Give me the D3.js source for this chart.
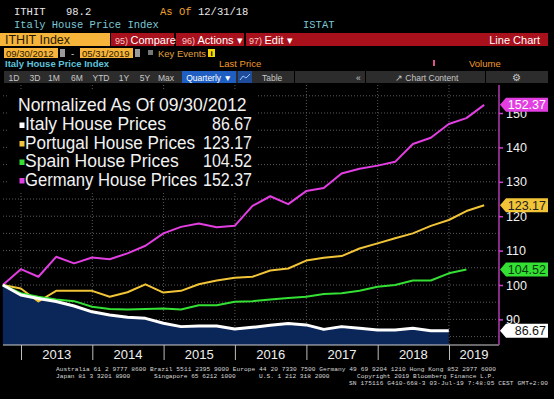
<!DOCTYPE html>
<html>
<head>
<meta charset="utf-8">
<script src="https://d3js.org/d3.v7.min.js"></script>
<style>
body { margin: 0; background: #000; }
svg { display: block; font-family: "Liberation Sans", Arial, sans-serif; }
.mono { font-family: "Liberation Mono", "DejaVu Sans Mono", monospace; }
</style>
</head>
<body>
<script>
var width = 554,
    height = 399;

// quarter end dates (normalized at 09/30/2012)
var quarters = ["2012-09-30","2012-12-31","2013-03-31","2013-06-30","2013-09-30","2013-12-31",
  "2014-03-31","2014-06-30","2014-09-30","2014-12-31","2015-03-31","2015-06-30","2015-09-30","2015-12-31",
  "2016-03-31","2016-06-30","2016-09-30","2016-12-31","2017-03-31","2017-06-30","2017-09-30","2017-12-31",
  "2018-03-31","2018-06-30","2018-09-30","2018-12-31","2019-03-31","2019-06-30"];

var italy = [100, 97.1, 96.1, 95.2, 93.9, 92.2, 91.3, 90.6, 90.3, 88.9, 87.9, 88.1, 88.1, 87.2,
  87.7, 88.3, 88.8, 88.4, 87.1, 87.9, 87.4, 86.9, 86.9, 87.4, 86.7, 86.67];
var portugal = [100, 99.0, 95.2, 98.3, 98.3, 98.3, 96.6, 97.9, 100.2, 97.8, 98.3, 100.2, 101.3, 102.1,
  102.4, 104.2, 104.8, 107.1, 107.9, 108.4, 110.6, 112.1, 113.6, 115.0, 117.2, 118.9, 121.5, 123.17];
var spain = [100, 97.6, 96.6, 95.8, 95.3, 93.7, 93.0, 92.9, 93.0, 93.2, 92.9, 94.1, 94.1, 95.1,
  95.3, 95.8, 96.2, 96.6, 97.4, 97.6, 98.3, 99.5, 100.0, 101.3, 101.3, 103.4, 104.52];
var germany = [100, 104.6, 102.4, 108.2, 106.3, 108.0, 107.5, 109.2, 111.4, 115.0, 116.9, 117.9, 116.8, 117.2,
  123.0, 125.8, 123.5, 127.3, 128.2, 132.4, 133.8, 134.7, 135.8, 141.0, 142.8, 146.8, 148.5, 152.37];

var seriesNames = ["Italy House Prices", "Portugal House Prices", "Spain House Prices", "Germany House Prices"];
var lastValues = [86.67, 123.17, 104.52, 152.37];
var seriesColors = ["#ffffff", "#f2c437", "#33e033", "#e23ee2"];
var tagText = ["#111111", "#222222", "#0a3a0a", "#ffffff"];

var yTicks = [90, 100, 110, 120, 130, 140, 150];
var gridValues = [85, 90, 95, 100, 105, 110, 115, 120, 125, 130, 135, 140, 145, 150, 155];
var years = [2013, 2014, 2015, 2016, 2017, 2018, 2019];

var parse = d3.timeParse("%Y-%m-%d");
var dates = quarters.map(parse);

var plotLeft = 3, plotRight = 499, plotTop = 85, plotBottom = 345;

var x = d3.scaleTime()
    .domain([new Date(2013, 0, 1), new Date(2019, 0, 1)])
    .range([21, 449]);
var y = d3.scaleLinear()
    .domain([100, 150])
    .range([285, 113]);

var svg = d3.select("body").append("svg")
    .attr("width", width)
    .attr("height", height)
    .style("background", "#000");

// *****
// HEADER
// *****
var head = svg.append("g");

head.append("text").attr("class", "mono").attr("x", 14).attr("y", 15).attr("font-size", 10.5).attr("fill", "#e8e8e8").text("ITHIT");
head.append("text").attr("class", "mono").attr("x", 66).attr("y", 15).attr("font-size", 10.5).attr("fill", "#e8e8e8").text("98.2");
head.append("text").attr("class", "mono").attr("x", 160).attr("y", 15).attr("font-size", 10.5).attr("fill", "#f0a030").text("As Of");
head.append("text").attr("class", "mono").attr("x", 198).attr("y", 15).attr("font-size", 10.5).attr("fill", "#e8e8e8").text("12/31/18");
head.append("text").attr("class", "mono").attr("x", 14).attr("y", 28).attr("font-size", 10.5).attr("fill", "#7cc9d6").text("Italy House Price Index");
head.append("text").attr("class", "mono").attr("x", 303).attr("y", 28).attr("font-size", 10.5).attr("fill", "#7cc9d6").text("ISTAT");

// command bar
head.append("rect").attr("x", 0).attr("y", 33).attr("width", 110).attr("height", 13).attr("fill", "#f7b43a");
head.append("text").attr("x", 5).attr("y", 44).attr("font-size", 12.5).attr("fill", "#2a1a00").text("ITHIT Index");
var redParts = [[111, 63], [176, 68], [246, 302]];
head.selectAll("rect.red").data(redParts).enter().append("rect")
    .attr("class", "red")
    .attr("x", function(d) { return d[0]; })
    .attr("y", 33).attr("width", function(d) { return d[1]; }).attr("height", 13)
    .attr("fill", "#a8101c");
var cmds = [[115, "95)", "Compare"], [182, "96)", "Actions \u25BE"], [249, "97)", "Edit \u25BE"]];
cmds.forEach(function(c) {
  var t = head.append("text").attr("x", c[0]).attr("y", 43.5).attr("font-size", 11).attr("fill", "#fff");
  t.append("tspan").attr("fill", "#f6c9c9").attr("font-size", 9).text(c[1] + " ");
  t.append("tspan").text(c[2]);
});
head.append("text").attr("x", 540).attr("y", 43.5).attr("text-anchor", "end").attr("font-size", 11).attr("fill", "#fff").text("Line Chart");

// date range row
head.append("rect").attr("x", 4).attr("y", 48).attr("width", 54).attr("height", 10).attr("fill", "#f7b43a");
head.append("text").attr("x", 6).attr("y", 56.5).attr("font-size", 9.5).attr("fill", "#2a1a00").text("09/30/2012");
head.append("rect").attr("x", 60).attr("y", 49).attr("width", 5).attr("height", 8).attr("fill", "#9a9a9a");
head.append("text").attr("x", 71).attr("y", 56.5).attr("font-size", 9.5).attr("fill", "#ddd").text("-");
head.append("rect").attr("x", 80).attr("y", 48).attr("width", 53).attr("height", 10).attr("fill", "#f7b43a");
head.append("text").attr("x", 82).attr("y", 56.5).attr("font-size", 9.5).attr("fill", "#2a1a00").text("05/31/2019");
head.append("rect").attr("x", 135).attr("y", 49).attr("width", 5).attr("height", 8).attr("fill", "#9a9a9a");
head.append("rect").attr("x", 148).attr("y", 50).attr("width", 5).attr("height", 5).attr("fill", "#777");
head.append("text").attr("x", 158).attr("y", 56.5).attr("font-size", 9.5).attr("fill", "#e0a040").text("Key Events");
head.append("rect").attr("x", 208).attr("y", 49).attr("width", 7).attr("height", 8).attr("fill", "#f5d800");
head.append("text").attr("x", 211.5).attr("y", 56).attr("text-anchor", "middle").attr("font-size", 8).attr("font-weight", "bold").attr("fill", "#000").text("i");

// series title row
head.append("text").attr("x", 5).attr("y", 67).attr("font-size", 9.5).attr("font-weight", "bold").attr("fill", "#5fc3dc").text("Italy House Price Index");
head.append("text").attr("x", 219).attr("y", 67).attr("font-size", 9.5).attr("fill", "#f09a2a").text("Last Price");
head.append("rect").attr("x", 433).attr("y", 60).attr("width", 2).attr("height", 6).attr("fill", "#e0508a");
head.append("text").attr("x", 469).attr("y", 67).attr("font-size", 9.5).attr("fill", "#f09a2a").text("Volume");

// button bar
head.append("rect").attr("x", 4).attr("y", 71).attr("width", 544).attr("height", 12).attr("fill", "#2c2c2c");
var buttons = [[14, "1D"], [35, "3D"], [54, "1M"], [77, "6M"], [101, "YTD"], [124, "1Y"], [145, "5Y"], [166, "Max"]];
head.selectAll("text.btn").data(buttons).enter().append("text")
    .attr("class", "btn")
    .attr("x", function(d) { return d[0]; })
    .attr("y", 80.5).attr("text-anchor", "middle").attr("font-size", 8.5).attr("fill", "#c8c8c8")
    .text(function(d) { return d[1]; });
head.append("rect").attr("x", 182).attr("y", 71).attr("width", 54).attr("height", 12).attr("fill", "#1f5fc4");
head.append("text").attr("x", 209).attr("y", 80.5).attr("text-anchor", "middle").attr("font-size", 8.5).attr("fill", "#fff").text("Quarterly \u25BC");
head.append("rect").attr("x", 238).attr("y", 71).attr("width", 14).attr("height", 12).attr("fill", "#1f4c9a");
head.append("path").attr("d", "M240,80 L243,76 L246,78 L250,74").attr("stroke", "#9cc4ff").attr("fill", "none");
head.append("text").attr("x", 262).attr("y", 80.5).attr("font-size", 8.5).attr("fill", "#c8c8c8").text("Table");
[294, 365, 485].forEach(function(sx) {
  head.append("rect").attr("x", sx).attr("y", 71).attr("width", 1).attr("height", 12).attr("fill", "#000");
});
head.append("text").attr("x", 356).attr("y", 80.5).attr("font-size", 8.5).attr("fill", "#c8c8c8").text("\u00AB");
head.append("text").attr("x", 395).attr("y", 80.5).attr("font-size", 8.5).attr("fill", "#c8c8c8").text("\u2197 Chart Content");
head.append("text").attr("x", 516).attr("y", 81).attr("text-anchor", "middle").attr("font-size", 10).attr("fill", "#c8c8c8").text("\u2699");

// *****
// CHART
// *****
var chart = svg.append("g");

// grid
chart.append("g").selectAll("line").data(gridValues).enter().append("line")
    .attr("x1", plotLeft).attr("x2", plotRight)
    .attr("y1", function(d) { return y(d); }).attr("y2", function(d) { return y(d); })
    .attr("stroke", "#5a5a5a").attr("stroke-dasharray", "1,2");
chart.append("g").selectAll("line").data(years).enter().append("line")
    .attr("x1", function(d) { return x(new Date(d, 0, 1)); })
    .attr("x2", function(d) { return x(new Date(d, 0, 1)); })
    .attr("y1", plotTop).attr("y2", plotBottom)
    .attr("stroke", "#5a5a5a").attr("stroke-dasharray", "1,2");

// italy area
var italyPts = italy.map(function(v, i) { return [dates[i], v]; });
chart.append("path")
    .datum(italyPts)
    .attr("fill", "#0b2658")
    .attr("d", d3.area()
      .x(function(d) { return x(d[0]); })
      .y0(plotBottom)
      .y1(function(d) { return y(d[1]); }));

var line = d3.line()
    .x(function(d) { return x(d[0]); })
    .y(function(d) { return y(d[1]); });

var allSeries = [italy, portugal, spain, germany];
// italy drawn last, on top
[3, 1, 2, 0].forEach(function(k) {
  var pts = allSeries[k].map(function(v, i) { return [dates[i], v]; });
  chart.append("path")
    .datum(pts)
    .attr("fill", "none")
    .attr("stroke", seriesColors[k])
    .attr("stroke-width", k == 0 ? 3 : 2)
    .attr("stroke-linejoin", "round")
    .attr("d", line);
});

// bottom axis
chart.append("line").attr("x1", plotLeft).attr("x2", plotRight).attr("y1", plotBottom).attr("y2", plotBottom)
    .attr("stroke", "#d0d0d0").attr("stroke-width", 1);
var xAxis = chart.append("g")
    .attr("transform", "translate(0," + plotBottom + ")")
    .call(d3.axisBottom(x)
      .tickValues(years.map(function(d) { return new Date(d, 0, 1); }))
      .tickSize(15)
      .tickFormat(""));
xAxis.select(".domain").remove();
xAxis.selectAll("line").attr("stroke", "#bdbdbd");

chart.append("g").selectAll("text").data(years).enter().append("text")
    .attr("x", function(d) {
      var a = x(new Date(d, 0, 1));
      var b = d == 2019 ? plotRight : x(new Date(d + 1, 0, 1));
      return (a + b) / 2;
    })
    .attr("y", 358.5)
    .attr("text-anchor", "middle")
    .attr("font-size", 13)
    .attr("fill", "#f0f0f0")
    .text(function(d) { return d; });

// right axis
chart.append("line").attr("x1", plotRight).attr("x2", plotRight).attr("y1", plotTop).attr("y2", plotBottom)
    .attr("stroke", "#b23ab2").attr("stroke-width", 1.5);
var yAxis = chart.append("g")
    .attr("transform", "translate(" + plotRight + ",0)")
    .call(d3.axisRight(y).tickValues(yTicks).tickSize(4).tickPadding(3));
yAxis.select(".domain").remove();
yAxis.selectAll("line").attr("stroke", "#d040d0").attr("stroke-width", 1.5);
yAxis.selectAll("text")
    .attr("fill", "#f0f0f0")
    .attr("font-size", 12.5)
    .attr("font-family", "\"Liberation Sans\", Arial, sans-serif");

// last value tags
lastValues.forEach(function(v, k) {
  var ty = y(v);
  chart.append("path")
    .attr("d", "M500," + ty + " L506," + (ty - 7) + " L548," + (ty - 7) + " L548," + (ty + 7) + " L506," + (ty + 7) + " Z")
    .attr("fill", seriesColors[k]);
  chart.append("text")
    .attr("x", 546).attr("y", ty + 4.5)
    .attr("text-anchor", "end")
    .attr("font-size", 12.5)
    .attr("fill", tagText[k])
    .text(d3.format(".2f")(v));
});

// legend
var legend = svg.append("g");
legend.append("rect").attr("x", 8).attr("y", 90).attr("width", 250).attr("height", 103).attr("fill", "#000");
legend.append("text").attr("x", 18).attr("y", 111).attr("font-size", 17.5).attr("fill", "#f2f2f2")
    .text("Normalized As Of 09/30/2012");
var rows = legend.selectAll("g.row").data(seriesNames).enter().append("g").attr("class", "row");
rows.append("rect")
    .attr("x", 19.5).attr("y", function(d, i) { return 122.5 + i * 18.5; })
    .attr("width", 5).attr("height", 5.5)
    .attr("fill", function(d, i) { return seriesColors[i]; });
rows.append("text")
    .attr("x", 25).attr("y", function(d, i) { return 130 + i * 18.5; })
    .attr("font-size", 17.5).attr("fill", "#f2f2f2")
    .attr("textLength", function(d) { return d.length > 18 ? (d.length == 21 ? 170 : 172) : null; })
    .attr("lengthAdjust", "spacingAndGlyphs")
    .text(function(d) { return d; });
rows.append("text")
    .attr("x", 252).attr("y", function(d, i) { return 130 + i * 18.5; })
    .attr("text-anchor", "end")
    .attr("font-size", 17.5).attr("fill", "#f2f2f2")
    .attr("textLength", function(d, i) { return lastValues[i] < 100 ? 40 : 49; })
    .attr("lengthAdjust", "spacingAndGlyphs")
    .text(function(d, i) { return d3.format(".2f")(lastValues[i]); });

// footer
var foot = svg.append("g").attr("class", "mono").attr("font-size", 6.2).attr("fill", "#d8d8d8");
foot.append("text").attr("x", 56).attr("y", 371).attr("textLength", 440)
    .text("Australia 61 2 9777 8600 Brazil 5511 2395 9000 Europe 44 20 7330 7500 Germany 49 69 9204 1210 Hong Kong 852 2977 6000");
foot.append("text").attr("x", 56).attr("y", 378).text("Japan 81 3 3201 8900");
foot.append("text").attr("x", 154).attr("y", 378).text("Singapore 65 6212 1000");
foot.append("text").attr("x", 259).attr("y", 378).text("U.S. 1 212 318 2000");
foot.append("text").attr("x", 357).attr("y", 378).attr("textLength", 138).text("Copyright 2019 Bloomberg Finance L.P.");
foot.append("text").attr("x", 349).attr("y", 385).attr("textLength", 199).text("SN 175116 G410-668-3 03-Jul-19  7:48:05 CEST GMT+2:00");
</script>
</body>
</html>
